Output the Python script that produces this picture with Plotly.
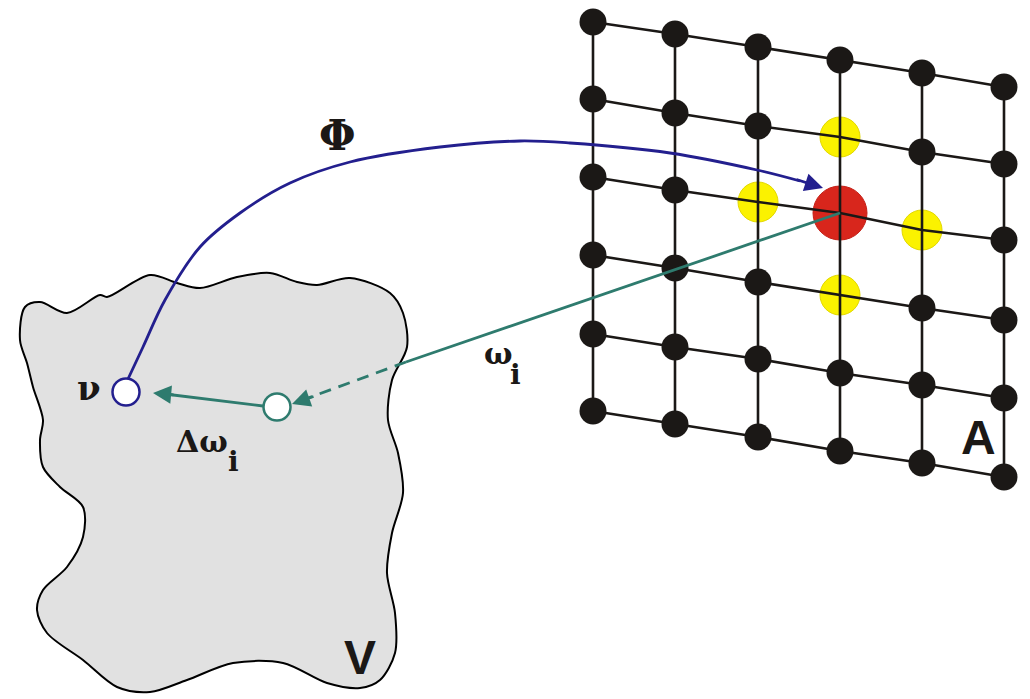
import plotly.graph_objects as go

# ---- data (pixel coordinates, y down) ----
# lattice A: 6 rows x 6 columns of neurons
col_x = [593, 675, 758, 840, 922, 1004]
row_y = [
    [22, 34, 47, 60, 73, 87],
    [99, 113, 126, 137, 152, 164],
    [177, 190, 202, 213, 230, 240],
    [255, 268, 282, 295, 308, 320],
    [334, 347, 359, 373, 385, 398],
    [411, 424, 437, 451, 463, 477],
]
winner = (2, 3)                       # red node (row, col)
neighbours = [(1, 3), (2, 2), (2, 4), (3, 3)]  # yellow nodes

# input space V outline
blob_x = [25, 40, 67, 100, 107, 150, 177, 200, 237, 270, 297, 317, 350, 390,
          403, 407, 392, 388, 398, 403, 392, 387, 395, 395, 380, 360, 327, 283,
          233, 187, 150, 117, 83, 47, 37, 43, 67, 83, 83, 60, 43, 40, 43, 33,
          27, 20]
blob_y = [307, 302, 313, 295, 297, 275, 283, 288, 277, 273, 282, 285, 278, 293,
          313, 347, 380, 420, 453, 493, 533, 573, 613, 653, 680, 688, 683, 663,
          663, 680, 692, 687, 660, 633, 610, 590, 567, 537, 507, 487, 467, 440,
          420, 387, 363, 340]

# mapping Phi curve (from v to winner)
phi_x = [128, 143, 165, 200, 240, 290, 350, 440, 520, 570, 670, 757, 800]
phi_y = [379, 347, 300, 247, 213, 183, 162, 147, 141, 143, 153, 170, 181]

v_pt = (126, 392)
w_pt = (277, 407)

BLACK = "#1b1816"
NAVY = "#231f8e"
TEAL = "#2e7b6e"

OFF = 8  # page body margin

fig = go.Figure()

# input space blob
fig.add_trace(go.Scatter(x=blob_x + [blob_x[0]], y=blob_y + [blob_y[0]],
                         mode="lines", line=dict(color="black", width=2, shape="spline", smoothing=0.9),
                         fill="toself", fillcolor="#e1e1e1", hoverinfo="skip"))

# coloured neighbourhood nodes (under the lattice lines)
fig.add_trace(go.Scatter(x=[col_x[c] for r, c in neighbours], y=[row_y[r][c] for r, c in neighbours],
                         mode="markers", marker=dict(size=40, color="#fbf200",
                                                     line=dict(color="#e2d800", width=1)),
                         hoverinfo="skip"))
fig.add_trace(go.Scatter(x=[col_x[winner[1]]], y=[row_y[winner[0]][winner[1]]],
                         mode="markers", marker=dict(size=54, color="#d8261c",
                                                     line=dict(color="#c41f16", width=1)),
                         hoverinfo="skip"))

# lattice lines
for r in range(6):
    fig.add_trace(go.Scatter(x=col_x, y=row_y[r], mode="lines",
                             line=dict(color=BLACK, width=2.6), hoverinfo="skip"))
for c in range(6):
    fig.add_trace(go.Scatter(x=[col_x[c]] * 6, y=[row_y[r][c] for r in range(6)], mode="lines",
                             line=dict(color=BLACK, width=2.6), hoverinfo="skip"))

# black nodes
bx, by = [], []
for r in range(6):
    for c in range(6):
        if (r, c) != winner and (r, c) not in neighbours:
            bx.append(col_x[c]); by.append(row_y[r][c])
fig.add_trace(go.Scatter(x=bx, y=by, mode="markers",
                         marker=dict(size=27, color=BLACK), hoverinfo="skip"))

# Phi curve
fig.add_trace(go.Scatter(x=phi_x, y=phi_y, mode="lines",
                         line=dict(color=NAVY, width=2.8, shape="spline"), hoverinfo="skip"))

# weight vector line: solid part and dashed part
wx = col_x[winner[1]]; wy = row_y[winner[0]][winner[1]]
fig.add_trace(go.Scatter(x=[wx, 406], y=[wy, 362], mode="lines",
                         line=dict(color=TEAL, width=2.8), hoverinfo="skip"))
fig.add_trace(go.Scatter(x=[406, 300], y=[362, 401], mode="lines",
                         line=dict(color=TEAL, width=2.8, dash="12px,8px"), hoverinfo="skip"))
# delta w line
fig.add_trace(go.Scatter(x=[w_pt[0] - 14, 165], y=[w_pt[1] - 1, 394], mode="lines",
                         line=dict(color=TEAL, width=2.8), hoverinfo="skip"))

# open circles v and w
fig.add_trace(go.Scatter(x=[v_pt[0]], y=[v_pt[1]], mode="markers",
                         marker=dict(size=27, color="white", line=dict(color=NAVY, width=2.5)),
                         hoverinfo="skip"))
fig.add_trace(go.Scatter(x=[w_pt[0]], y=[w_pt[1]], mode="markers",
                         marker=dict(size=27, color="white", line=dict(color=TEAL, width=2.5)),
                         hoverinfo="skip"))

# arrowheads
def arrow(x, y, ax, ay, color):
    fig.add_annotation(x=x, y=y, ax=ax, ay=ay, xref="x", yref="y", axref="x", ayref="y",
                       showarrow=True, arrowhead=2, arrowsize=1.3, arrowwidth=2.8,
                       arrowcolor=color, text="", standoff=0)

arrow(823, 188, 795, 179, NAVY)
arrow(292, 404, 315, 396, TEAL)
arrow(153, 393, 175, 395, TEAL)

# labels
SERIF = "DejaVu Serif"
def label(x, y, t, size, family=SERIF, color=BLACK):
    fig.add_annotation(x=x, y=y, xref="x", yref="y", text="<b>%s</b>" % t, showarrow=False,
                       font=dict(family=family, size=size, color=color))

label(337, 135, "Φ", 42)
label(89, 388, "ν", 34)
label(202, 441, "Δω", 30)
label(233, 461, "i", 28)
label(498, 353, "ω", 30)
label(515, 374, "i", 28)
label(978, 437, "A", 48, family="Liberation Sans")
label(360, 657, "V", 48, family="Liberation Sans")

fig.update_layout(
    width=1030 - OFF, height=699 - OFF, margin=dict(l=0, r=0, t=0, b=0),
    paper_bgcolor="white", plot_bgcolor="white", showlegend=False,
    xaxis=dict(range=[OFF, 1030], visible=False, fixedrange=True),
    yaxis=dict(range=[699, OFF], visible=False, fixedrange=True),
)
fig.write_html("out.html")
